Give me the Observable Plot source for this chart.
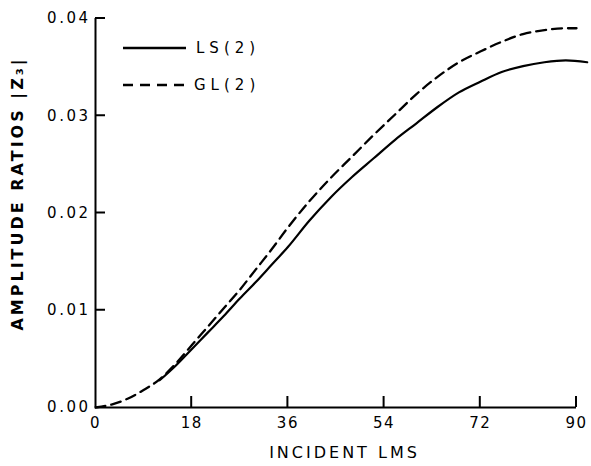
<!DOCTYPE html>
<html>
<head>
<meta charset="utf-8">
<script src="https://cdn.jsdelivr.net/npm/d3@7"></script>
<script src="https://cdn.jsdelivr.net/npm/@observablehq/plot@0.6"></script>
<style>
  html, body { margin: 0; padding: 0; background: #fff; }
</style>
</head>
<body>
<div id="chart"></div>
<script>
// Incident angle (degrees) and amplitude ratios |Z3|
const lsAngle = [12, 15, 18, 21, 24, 27, 30, 33, 36, 40, 44, 48, 52, 56, 60, 64, 68, 72, 76, 80, 84, 88, 92];
const lsValue = [0.0028, 0.0043, 0.0060, 0.0077, 0.0094, 0.0112, 0.0129, 0.0147, 0.0165, 0.0192, 0.0216, 0.0237, 0.0256, 0.0275, 0.0292, 0.0309, 0.0324, 0.0335, 0.0345, 0.0351, 0.0355, 0.0357, 0.0355];
const glAngle = [0, 3, 6, 9, 12, 15, 18, 21, 24, 27, 30, 33, 36, 40, 44, 48, 52, 56, 60, 64, 68, 72, 76, 80, 84, 88, 90];
const glValue = [0, 0.0003, 0.0009, 0.0018, 0.0029, 0.0045, 0.0064, 0.0083, 0.0102, 0.0121, 0.0142, 0.0163, 0.0185, 0.0212, 0.0236, 0.0258, 0.0280, 0.0301, 0.0322, 0.0340, 0.0355, 0.0366, 0.0376, 0.0384, 0.0388, 0.0390, 0.0390];
const xTicks = [0, 18, 36, 54, 72, 90];
const yTicks = [0, 0.01, 0.02, 0.03, 0.04];
const seriesNames = ["LS(2)", "GL(2)"];
const xTitle = "INCIDENT LMS";
const yTitle = "AMPLITUDE RATIOS |Z\u2083|";

const ls = lsAngle.map((a, i) => ({angle: a, value: lsValue[i]}));
const gl = glAngle.map((a, i) => ({angle: a, value: glValue[i]}));

const W = 591, H = 466, mL = 95, mR = 15, mT = 18, mB = 59;
const xTickLen = 11, yTickLen = 10;

const plot = Plot.plot({
  width: W, height: H,
  marginLeft: mL, marginRight: mR, marginTop: mT, marginBottom: mB,
  x: {domain: [0, 90], axis: null},
  y: {domain: [0, 0.04], axis: null},
  marks: [
    Plot.ruleX([0], {strokeWidth: 2}),
    Plot.ruleY([0], {strokeWidth: 2}),
    Plot.axisX({ticks: xTicks, tickSize: 0, tickPadding: 10, tickFormat: d => String(d), fontSize: 15, label: null}),
    Plot.axisY({ticks: yTicks, tickSize: 0, tickPadding: 5, tickFormat: d3.format(".2f"), fontSize: 15, label: null}),
    Plot.line(gl, {x: "angle", y: "value", stroke: "#000", strokeWidth: 2.3, strokeDasharray: "10,6", curve: "monotone-x"}),
    Plot.line(ls, {x: "angle", y: "value", stroke: "#000", strokeWidth: 2.2, curve: "monotone-x", clip: false})
  ]
});

const sx = plot.scale("x"), sy = plot.scale("y");
const svg = d3.select(plot)
  .attr("font-family", "DejaVu Sans, sans-serif")
  .style("color", "#000");
svg.selectAll('g[aria-label="y-axis tick label"]').attr("letter-spacing", "2.5");
svg.selectAll('g[aria-label="x-axis tick label"]').attr("letter-spacing", "1.5");

// Inward tick marks placed through the plot's own scales
const ticks = svg.append("g").attr("stroke", "#000").attr("stroke-width", 2);
xTicks.slice(1).forEach(v => {
  const px = sx.apply(v), py = sy.apply(0);
  ticks.append("line").attr("x1", px).attr("x2", px).attr("y1", py).attr("y2", py - xTickLen);
});
yTicks.slice(1).forEach(v => {
  const px = sx.apply(0), py = sy.apply(v);
  ticks.append("line").attr("x1", px).attr("x2", px + yTickLen).attr("y1", py).attr("y2", py);
});

// Axis titles
svg.append("text")
  .attr("x", (mL + W - mR) / 2 + 9)
  .attr("y", H - 13)
  .attr("text-anchor", "middle")
  .attr("dominant-baseline", "middle")
  .attr("font-size", 16)
  .attr("letter-spacing", 3)
  .attr("fill", "#000")
  .text(xTitle);

svg.append("text")
  .attr("transform", `translate(18,${(mT + H - mB) / 2 - 19}) rotate(-90)`)
  .attr("text-anchor", "middle")
  .attr("dominant-baseline", "middle")
  .attr("font-size", 16)
  .attr("font-weight", "bold")
  .attr("letter-spacing", 3)
  .attr("fill", "#000")
  .text(yTitle);

// Legend
const legend = svg.append("g").attr("transform", `translate(${mL + 28},${mT + 30})`);
const styles = [null, "10,7"];
seriesNames.forEach((name, i) => {
  const g = legend.append("g").attr("transform", `translate(0,${i * 37})`);
  g.append("line").attr("x1", 0).attr("x2", 63).attr("y1", 0).attr("y2", 0)
    .attr("stroke", "#000").attr("stroke-width", 2.3)
    .attr("stroke-dasharray", styles[i]);
  g.append("text").attr("x", i === 0 ? 73 : 71).attr("y", 0)
    .attr("text-anchor", "start")
    .attr("dominant-baseline", "middle")
    .attr("font-size", 15).attr("letter-spacing", 5).attr("fill", "#000")
    .text(name);
});

document.getElementById("chart").appendChild(plot);
</script>
</body>
</html>
